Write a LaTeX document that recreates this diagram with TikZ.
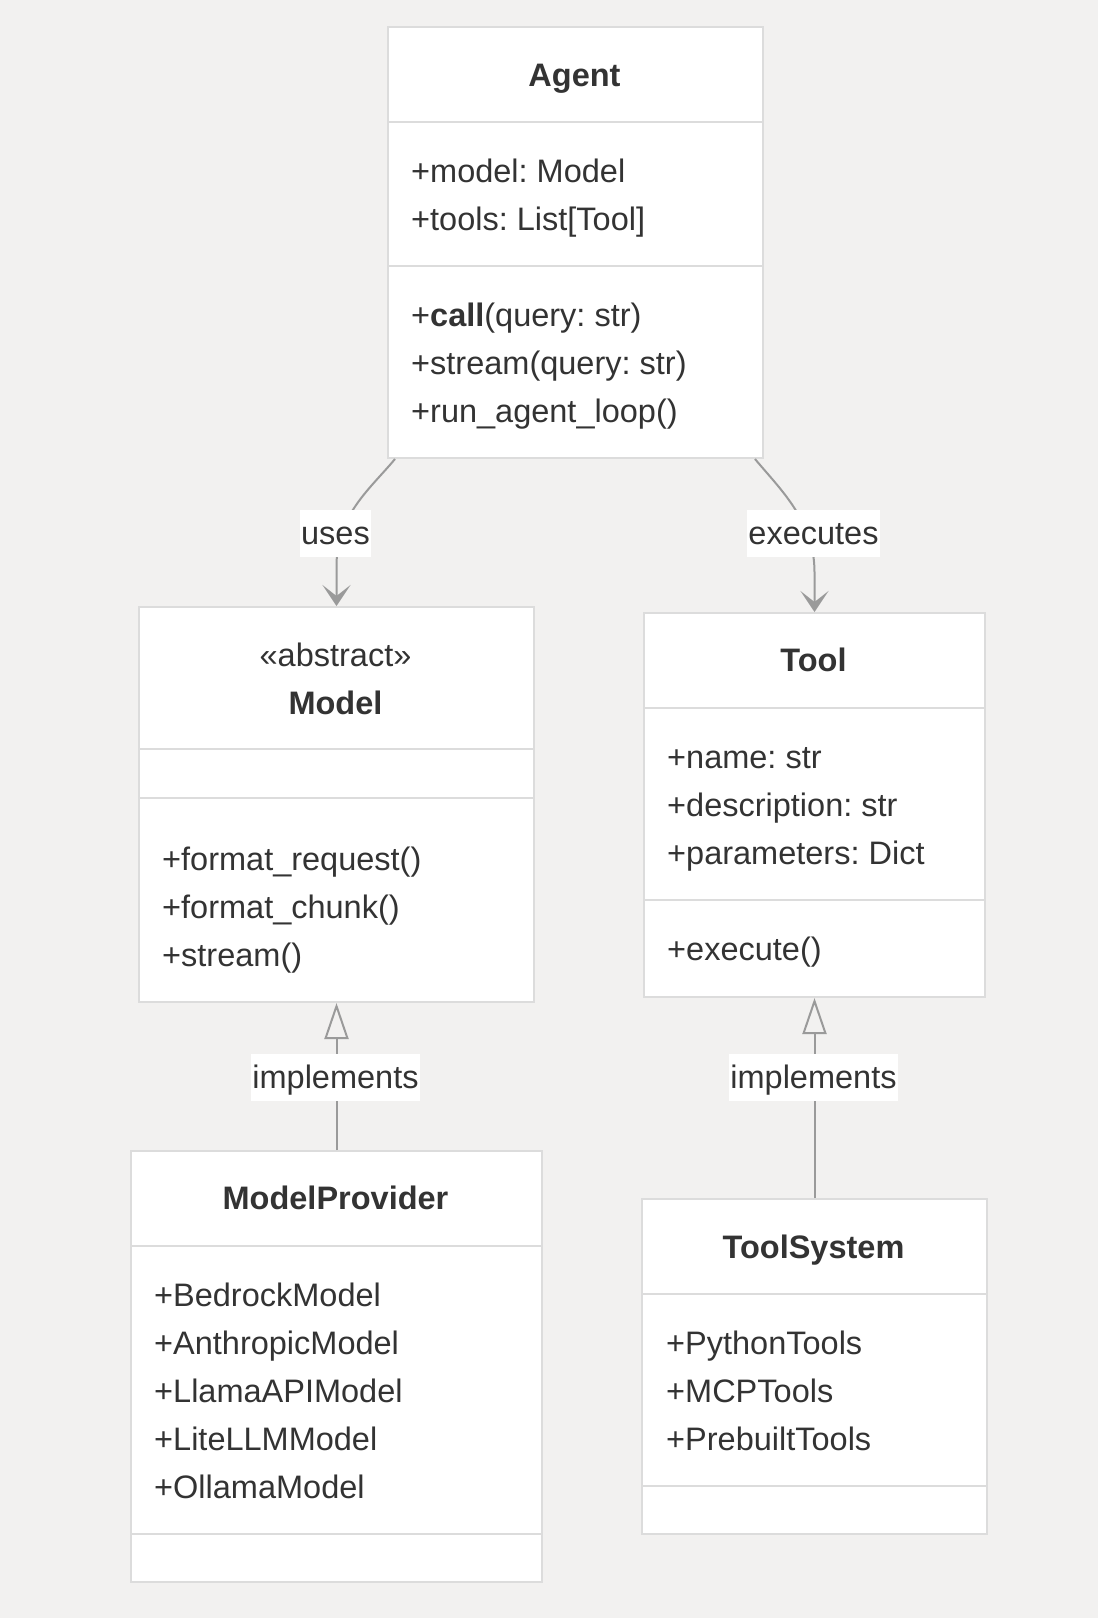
\documentclass[tikz,border=0pt]{standalone}
\usepackage{fontspec}
\setmainfont{Liberation Sans}
\usetikzlibrary{arrows.meta,calc}
\definecolor{bg}{HTML}{F2F1F0}
\definecolor{bd}{HTML}{DCDCDC}
\definecolor{ln}{HTML}{9A9A9A}
\definecolor{tx}{HTML}{333333}
\frenchspacing
\begin{document}
\frenchspacing
\begin{tikzpicture}[x=1pt,y=-1pt,
  box/.style={draw=bd, line width=2pt, fill=white, inner sep=0pt, anchor=north west},
  txt/.style={text=tx, font=\fontsize{32.5}{38}\selectfont\frenchspacing, anchor=west, inner sep=0pt, text height=23pt, text depth=0pt},
  ttl/.style={txt, anchor=center, font=\fontsize{32.5}{38}\selectfont\bfseries},
  stereo/.style={txt, anchor=center},
  divider/.style={draw=bd, line width=2pt},
  edge/.style={draw=ln, line width=2pt},
  dep/.style={edge, -{Stealth[length=21pt, width=28pt, inset=11pt]}},
  impl/.style={edge, -{Triangle[open, length=36pt, width=24pt, fill=bg]}},
  lbl/.style={fill=white, text=tx, font=\fontsize{32.5}{38}\selectfont, inner xsep=1pt, inner ysep=0pt, minimum height=47pt, text height=23pt, text depth=0pt}
]
\fill[bg] (0,0) rectangle (1098,1618);
\useasboundingbox (0,0) rectangle (1098,1618);

% Agent
\node[box, minimum width=375pt, minimum height=431pt] (agent) at (387,26) {};
\draw[divider] (387,122) -- (762,122);
\draw[divider] (387,266) -- (762,266);
\node[ttl] (agentT) at (574.5,75) {Agent};
\node[txt] (a1) at (411,171) {+model: Model};
\node[txt] (a2) at (411,219) {+tools: List[Tool]};
\node[txt] (a3) at (411,315) {+\textbf{call}(query: str)};
\node[txt] (a4) at (411,363) {+stream(query: str)};
\node[txt] (a5) at (411,411) {+run\_agent\_loop()};

% Model
\node[box, minimum width=395pt, minimum height=395pt] (model) at (138,606) {};
\draw[divider] (138,749) -- (533,749);
\draw[divider] (138,798) -- (533,798);
\node[stereo] (modelS) at (335.5,655) {«abstract»};
\node[ttl] (modelT) at (335.5,703) {Model};
\node[txt] (m1) at (162,859) {+format\_request()};
\node[txt] (m2) at (162,907) {+format\_chunk()};
\node[txt] (m3) at (162,955) {+stream()};

% Tool
\node[box, minimum width=341pt, minimum height=384pt] (tool) at (643,612) {};
\draw[divider] (643,708) -- (984,708);
\draw[divider] (643,900) -- (984,900);
\node[ttl] (toolT) at (813.5,660) {Tool};
\node[txt] (t1) at (667,757) {+name: str};
\node[txt] (t2) at (667,805) {+description: str};
\node[txt] (t3) at (667,853) {+parameters: Dict};
\node[txt] (t4) at (667,949) {+execute()};

% ModelProvider
\node[box, minimum width=411pt, minimum height=431pt] (mp) at (130,1150) {};
\draw[divider] (130,1246) -- (541,1246);
\draw[divider] (130,1534) -- (541,1534);
\node[ttl] (mpT) at (335.5,1198) {ModelProvider};
\node[txt] (p1) at (154,1295) {+BedrockModel};
\node[txt] (p2) at (154,1343) {+AnthropicModel};
\node[txt] (p3) at (154,1391) {+LlamaAPIModel};
\node[txt] (p4) at (154,1439) {+LiteLLMModel};
\node[txt] (p5) at (154,1487) {+OllamaModel};

% ToolSystem
\node[box, minimum width=345pt, minimum height=335pt] (ts) at (641,1198) {};
\draw[divider] (641,1294) -- (986,1294);
\draw[divider] (641,1486) -- (986,1486);
\node[ttl] (tsT) at (813.5,1247) {ToolSystem};
\node[txt] (s1) at (666,1343) {+PythonTools};
\node[txt] (s2) at (666,1391) {+MCPTools};
\node[txt] (s3) at (666,1439) {+PrebuiltTools};

% Connectors
\draw[dep] ($(agent.south west)+(8,0)$) .. controls ($(agent.south west)+(-17,30)$) and ($(model.north)+(0,-91)$) .. ($(model.north)+(0,-40)$) -- (model.north);
\draw[dep] ($(agent.south east)+(-9,0)$) .. controls ($(agent.south east)+(16,30)$) and ($(tool.north)+(0,-91)$) .. ($(tool.north)+(0,-40)$) -- (tool.north);
\draw[impl] (mp.north) -- (model.south);
\draw[impl] (ts.north) -- (tool.south);

\node[lbl] (luses) at (335.5,533) {uses};
\node[lbl] (lexec) at (813.5,533) {executes};
\node[lbl] (limp1) at (335.5,1077) {implements};
\node[lbl] (limp2) at (813.5,1077) {implements};
\end{tikzpicture}
\end{document}
